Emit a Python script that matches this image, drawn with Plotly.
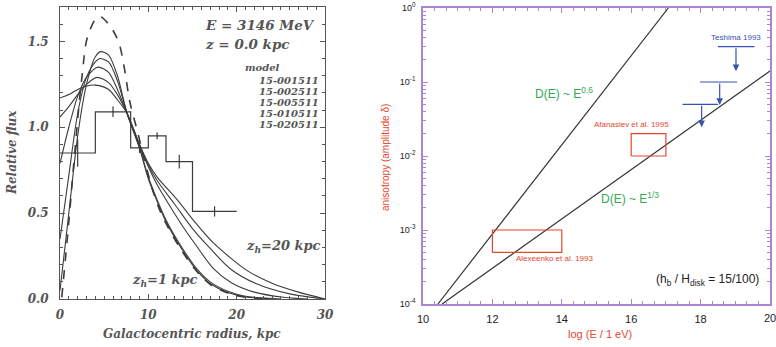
import math
import plotly.graph_objects as go

W, H = 776, 347

# ---------------- Left panel data ----------------
hist_edges = [0, 4, 8, 10, 12, 15, 20]
hist_vals = [0.85, 1.09, 0.88, 0.95, 0.80, 0.51]
err_x = [2, 6, 9, 11, 13.5, 17.5]
err_y = [0.85, 1.09, 0.88, 0.95, 0.80, 0.51]
err_e = [0.08, 0.03, 0.03, 0.02, 0.04, 0.03]

src_x = [0.2, 1.0, 1.7, 2.5, 3.2, 4.4, 5.5, 6.6, 7.3, 7.9, 8.9, 9.4, 10.9, 12.0, 13.8, 15.5, 17.0, 19.0, 21.0, 24.0]
src_y = [0.01, 0.45, 0.87, 1.30, 1.54, 1.645, 1.60, 1.50, 1.34, 1.15, 0.95, 0.84, 0.57, 0.44, 0.28, 0.16, 0.086, 0.035, 0.01, 0.0]

model_names = ["15-001511", "15-002511", "15-005511", "15-010511", "15-020511"]
m1_x = [0, 1, 2, 3, 4, 4.6, 5.5, 6.5, 7.6, 9, 10, 10.9, 12, 13.8, 15.5, 17, 19, 21, 24]
m1_y = [0.05, 0.5, 0.95, 1.25, 1.41, 1.44, 1.42, 1.30, 1.08, 0.88, 0.70, 0.58, 0.45, 0.29, 0.165, 0.09, 0.038, 0.012, 0.0]
m2_x = [0, 1, 2, 3, 4, 4.5, 5.5, 6.5, 7.6, 9, 10, 10.9, 12, 13.8, 15.5, 17, 19, 21, 25]
m2_y = [0.35, 0.72, 1.08, 1.29, 1.38, 1.40, 1.38, 1.27, 1.08, 0.88, 0.71, 0.59, 0.46, 0.30, 0.175, 0.10, 0.045, 0.016, 0.0]
m5_x = [0, 1, 2, 3, 4.3, 5.5, 6.5, 7.6, 9, 10, 11, 12.45, 14, 15.3, 17.4, 19.4, 22, 25.3, 28]
m5_y = [0.79, 1.0, 1.18, 1.29, 1.35, 1.32, 1.22, 1.08, 0.89, 0.77, 0.665, 0.54, 0.415, 0.32, 0.175, 0.095, 0.04, 0.01, 0.0]
m10_x = [0, 1, 2, 3, 4.2, 5.5, 6.5, 7.6, 9, 10, 11, 13, 15, 16.9, 19.3, 22.1, 26, 30]
m10_y = [1.06, 1.12, 1.19, 1.25, 1.29, 1.26, 1.19, 1.08, 0.90, 0.78, 0.69, 0.55, 0.41, 0.30, 0.175, 0.092, 0.03, 0.0]
m20_x = [0, 1, 2, 3, 4.0, 5.5, 6.5, 7.6, 9, 10, 11, 13.4, 15, 17.4, 21.2, 24, 27, 30]
m20_y = [1.17, 1.19, 1.22, 1.24, 1.245, 1.22, 1.16, 1.08, 0.90, 0.79, 0.71, 0.57, 0.465, 0.325, 0.165, 0.092, 0.04, 0.0]
models_x = [m1_x, m2_x, m5_x, m10_x, m20_x]
models_y = [m1_y, m2_y, m5_y, m10_y, m20_y]

left_xticks = [0, 10, 20, 30]
left_yticks = [0.0, 0.5, 1.0, 1.5]
left_yticktext = ["0.0", "0.5", "1.0", "1.5"]

# ---------------- Right panel data ----------------
e06_x = [10.43, 17.07]
e06_y = [1e-4, 1.0]
e13_x = [10.55, 20.0]
e13_y = [1e-4, 0.141]
alex_x = [12.0, 14.0]
alex_y = [5e-4, 1e-3]
afan_x = [16.0, 17.0]
afan_y = [1e-2, 2e-2]
tesh_xlo = [18.5, 17.98, 17.48]
tesh_xhi = [19.55, 19.05, 18.5]
tesh_lim = [0.3, 0.1, 0.05]
tesh_ax = [19.02, 18.55, 18.03]
tesh_tip = [0.14, 0.049, 0.0245]
right_xticks = [10, 12, 14, 16, 18, 20]
right_xticktext = ["10", "12", "14", "16", "18", "20"]
right_yticks = [1e-4, 1e-3, 1e-2, 1e-1, 1]
right_yticktext = ["10<sup>-4</sup>", "10<sup>-3</sup>", "10<sup>-2</sup>", "10<sup>-1</sup>", "10<sup>0</sup>"]

# ---------------- styling ----------------
INK = "#3c3c3c"
GREY = "#555555"
PURPLE = "#aa86d0"
RED = "#e4472f"
GREEN = "#35a853"
BLUE = "#3553b3"
SERIF = "DejaVu Serif"
SANS = "Liberation Sans"

def ifont(size, color=GREY):
    return dict(family=SERIF, size=size, color=color, style="italic", weight="bold")

fig = go.Figure()

fig.add_trace(go.Scatter(x=hist_edges, y=hist_vals + [hist_vals[-1]], mode="lines",
                         line=dict(color=INK, width=1.2, shape="hv"),
                         xaxis="x", yaxis="y", showlegend=False))
fig.add_trace(go.Scatter(x=err_x, y=err_y, mode="markers",
                         marker=dict(size=1, color=INK),
                         error_y=dict(type="data", array=err_e, width=0, thickness=1.2, color=INK),
                         xaxis="x", yaxis="y", showlegend=False))
fig.add_trace(go.Scatter(x=src_x, y=src_y, mode="lines",
                         line=dict(color=INK, width=1.6, dash="dash", shape="spline"),
                         xaxis="x", yaxis="y", showlegend=False))
for mx, my, name in zip(models_x, models_y, model_names):
    fig.add_trace(go.Scatter(x=mx, y=my, mode="lines", name=name,
                             line=dict(color=INK, width=1.1, shape="spline", smoothing=0.8),
                             xaxis="x", yaxis="y", showlegend=False))

fig.add_trace(go.Scatter(x=e06_x, y=e06_y, mode="lines", line=dict(color="#333", width=1.2),
                         xaxis="x2", yaxis="y2", showlegend=False))
fig.add_trace(go.Scatter(x=e13_x, y=e13_y, mode="lines", line=dict(color="#333", width=1.2),
                         xaxis="x2", yaxis="y2", showlegend=False))
for bx, by in [(alex_x, alex_y), (afan_x, afan_y)]:
    fig.add_trace(go.Scatter(x=[bx[0], bx[1], bx[1], bx[0], bx[0]],
                             y=[by[0], by[0], by[1], by[1], by[0]], mode="lines",
                             line=dict(color=RED, width=1.2),
                             xaxis="x2", yaxis="y2", showlegend=False))
hx, hy = [], []
for lo, hi, lim in zip(tesh_xlo, tesh_xhi, tesh_lim):
    hx += [lo, hi, None]
    hy += [lim, lim, None]
fig.add_trace(go.Scatter(x=hx, y=hy, mode="lines", line=dict(color=BLUE, width=1.2),
                         xaxis="x2", yaxis="y2", showlegend=False))

annotations = []
for lim, ax, tip in zip(tesh_lim, tesh_ax, tesh_tip):
    annotations.append(dict(x=ax, y=math.log10(tip), ax=ax, ay=math.log10(lim),
                            xref="x2", yref="y2", axref="x2", ayref="y2", text="",
                            showarrow=True, arrowhead=2, arrowsize=1.1, arrowwidth=1.2,
                            arrowcolor=BLUE))

annotations += [
    dict(x=16.2, y=1.595, xref="x", yref="y", text="E = 3146 MeV", showarrow=False,
         xanchor="left", font=ifont(13.5)),
    dict(x=16.2, y=1.484, xref="x", yref="y", text="z = 0.0 kpc", showarrow=False,
         xanchor="left", font=ifont(13.5)),
    dict(x=20.7, y=1.345, xref="x", yref="y", text="model", showarrow=False,
         xanchor="left", font=ifont(10)),
]
for i, name in enumerate(model_names):
    annotations.append(dict(x=29.6, y=1.272 - 0.064 * i, xref="x", yref="y", text=name,
                            showarrow=False, xanchor="right", font=ifont(10)))
annotations += [
    dict(x=29.8, y=0.303, xref="x", yref="y", text="z<sub>h</sub>=20 kpc", showarrow=False,
         xanchor="right", font=ifont(13)),
    dict(x=7.9, y=0.105, xref="x", yref="y", text="z<sub>h</sub>=1 kpc", showarrow=False,
         xanchor="left", font=ifont(13)),
    dict(x=12 / W, y=1 - 153 / H, xref="paper", yref="paper", text="Relative flux",
         textangle=-90, showarrow=False, xanchor="center", yanchor="middle", font=ifont(12)),
    dict(x=192 / W, y=1 - 334 / H, xref="paper", yref="paper", text="Galactocentric radius, kpc",
         showarrow=False, xanchor="center", yanchor="middle", font=ifont(12)),
]

annotations += [
    dict(x=14.07, y=-1.15, xref="x2", yref="y2", text="D(E) ~ E<sup>0.6</sup>", showarrow=False,
         font=dict(family=SANS, size=12, color=GREEN)),
    dict(x=15.97, y=-2.57, xref="x2", yref="y2", text="D(E) ~ E<sup>1/3</sup>", showarrow=False,
         font=dict(family=SANS, size=12, color=GREEN)),
    dict(x=18.2, y=-3.68, xref="x2", yref="y2", text="(h<sub>b</sub> / H<sub>disk</sub> = 15/100)",
         showarrow=False, font=dict(family=SANS, size=12, color="#222")),
    dict(x=19.02, y=-0.405, xref="x2", yref="y2", text="Teshima 1993", showarrow=False,
         font=dict(family=SANS, size=8, color=BLUE)),
    dict(x=16.0, y=-1.58, xref="x2", yref="y2", text="Afanasiev et al. 1995", showarrow=False,
         font=dict(family=SANS, size=8, color=RED)),
    dict(x=13.78, y=-3.38, xref="x2", yref="y2", text="Alexeenko et al. 1993", showarrow=False,
         font=dict(family=SANS, size=8, color=RED)),
    dict(x=385 / W, y=1 - 158 / H, xref="paper", yref="paper", text="anisotropy (amplitude δ)",
         textangle=-90, showarrow=False, xanchor="center", yanchor="middle",
         font=dict(family=SANS, size=10, color=RED)),
    dict(x=600 / W, y=1 - 334 / H, xref="paper", yref="paper", text="log (E / 1 eV)",
         showarrow=False, xanchor="center", yanchor="middle",
         font=dict(family=SANS, size=11, color=RED)),
    dict(x=right_xticks[-1], y=1 - 318 / H, xref="x2", yref="paper", text=right_xticktext[-1],
         showarrow=False, xanchor="center", yanchor="middle",
         font=dict(family=SANS, size=11, color="#222")),
]

fig.update_layout(
    width=W, height=H, margin=dict(l=0, r=0, t=0, b=0, autoexpand=False),
    paper_bgcolor="white", plot_bgcolor="white", showlegend=False,
    annotations=annotations,
    xaxis=dict(domain=[60 / W, 325 / W], range=[0, 30], tickvals=left_xticks,
               ticks="inside", ticklen=5, tickcolor=GREY, showline=True, linecolor=GREY,
               linewidth=1, mirror="allticks", showgrid=False, zeroline=False,
               automargin=False, ticklabelstandoff=5,
               minor=dict(ticks="inside", dtick=1, ticklen=3, tickcolor=GREY, showgrid=False),
               tickfont=ifont(12), anchor="y"),
    yaxis=dict(domain=[1 - 299 / H, 1 - 7 / H], range=[0, 1.7], tickvals=left_yticks,
               ticktext=left_yticktext, ticks="inside", ticklen=5, tickcolor=GREY,
               showline=True, linecolor=GREY, linewidth=1, mirror="allticks",
               showgrid=False, zeroline=False, ticklabelstandoff=8, automargin=False,
               minor=dict(ticks="inside", dtick=0.1, ticklen=3, tickcolor=GREY, showgrid=False),
               tickfont=ifont(12), anchor="x"),
    xaxis2=dict(domain=[423 / W, 770 / W], range=[10, 20], tickvals=right_xticks,
                ticktext=right_xticktext[:-1] + [""],
                ticks="inside", ticklen=5, tickcolor=PURPLE, showline=True, linecolor=PURPLE,
                linewidth=1.5, mirror="allticks", showgrid=False, zeroline=False,
                automargin=False, ticklabelstandoff=4,
                minor=dict(ticks="inside", dtick=1 / 3, ticklen=3, tickcolor=PURPLE, showgrid=False),
                tickfont=dict(family=SANS, size=11, color="#222"), anchor="y2"),
    yaxis2=dict(domain=[1 - 304 / H, 1 - 8 / H], type="log", range=[-4, 0],
                tickvals=right_yticks, ticktext=right_yticktext,
                ticks="inside", ticklen=5, tickcolor=PURPLE, showline=True, linecolor=PURPLE,
                linewidth=1.5, mirror="allticks", showgrid=False, zeroline=False,
                automargin=False, ticklabelstandoff=4,
                minor=dict(ticks="inside", dtick="D1", ticklen=3, tickcolor=PURPLE, showgrid=False),
                tickfont=dict(family=SANS, size=9, color="#222"), anchor="x2"),
)

fig.write_html("out.html", config={"displayModeBar": False},
               post_script="document.body.style.margin='0';document.body.style.overflow='hidden';")
